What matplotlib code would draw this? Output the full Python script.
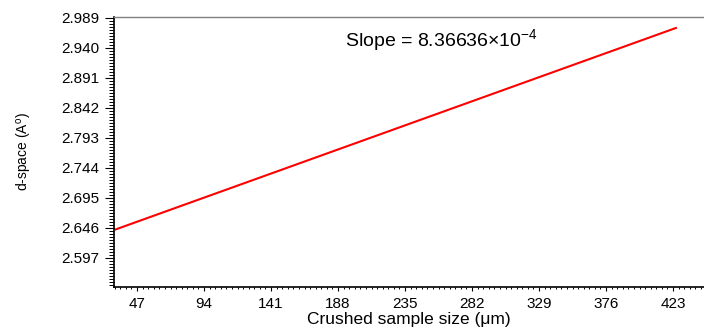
import numpy as np
import matplotlib
matplotlib.use("Agg")
import matplotlib.pyplot as plt
from matplotlib.ticker import FixedLocator, AutoMinorLocator, FormatStrFormatter

plt.rcParams['font.family'] = ['Liberation Sans', 'DejaVu Sans']
plt.rcParams['mathtext.default'] = 'regular'

# Fitted line endpoints (crushed sample size, d-space)
size_um = [32, 425]
d_space = [2.6436, 2.9724]
slope = 8.36636e-4

x_ticks = [47, 94, 141, 188, 235, 282, 329, 376, 423]
y_ticks = [2.597, 2.646, 2.695, 2.744, 2.793, 2.842, 2.891, 2.940, 2.989]

fig = plt.figure(figsize=(7.04, 3.31), dpi=100)
ax = fig.add_axes([0.162, 0.133, 0.838, 0.816])

ax.plot(size_um, d_space, color='red', lw=1.5)

ax.set_xlim(30.9, 444.7)
ax.set_ylim(2.5497, 2.9905)

ax.xaxis.set_major_locator(FixedLocator(x_ticks))
ax.yaxis.set_major_locator(FixedLocator(y_ticks))
ax.xaxis.set_minor_locator(AutoMinorLocator(12))
ax.yaxis.set_minor_locator(AutoMinorLocator(10))
ax.yaxis.set_major_formatter(FormatStrFormatter('%.3f'))

ax.tick_params(axis='y', which='major', length=6.5, width=0.8, direction='out', labelsize=11, pad=4)
ax.tick_params(axis='y', which='minor', length=3.5, width=0.7, direction='out')
ax.tick_params(axis='x', which='major', length=3, width=0.8, direction='out', labelsize=11, pad=4)
ax.tick_params(axis='x', which='minor', length=1.5, width=0.7, direction='out')

ax.spines['right'].set_visible(False)
ax.spines['top'].set_color('#808080')
ax.spines['top'].set_linewidth(1.0)
ax.spines['left'].set_linewidth(1.2)
ax.spines['bottom'].set_linewidth(1.2)

ax.set_xlabel('Crushed sample size (\u03bcm)', fontsize=12.5, labelpad=1)
ax.set_ylabel('d-space (A$^{o}$)', fontsize=10, labelpad=20)

ax.text(0.392, 0.915, 'Slope = 8.36636$\\times$10$^{-4}$', transform=ax.transAxes,
        fontsize=14, va='center', ha='left')

fig.savefig('out.png', dpi=100)
